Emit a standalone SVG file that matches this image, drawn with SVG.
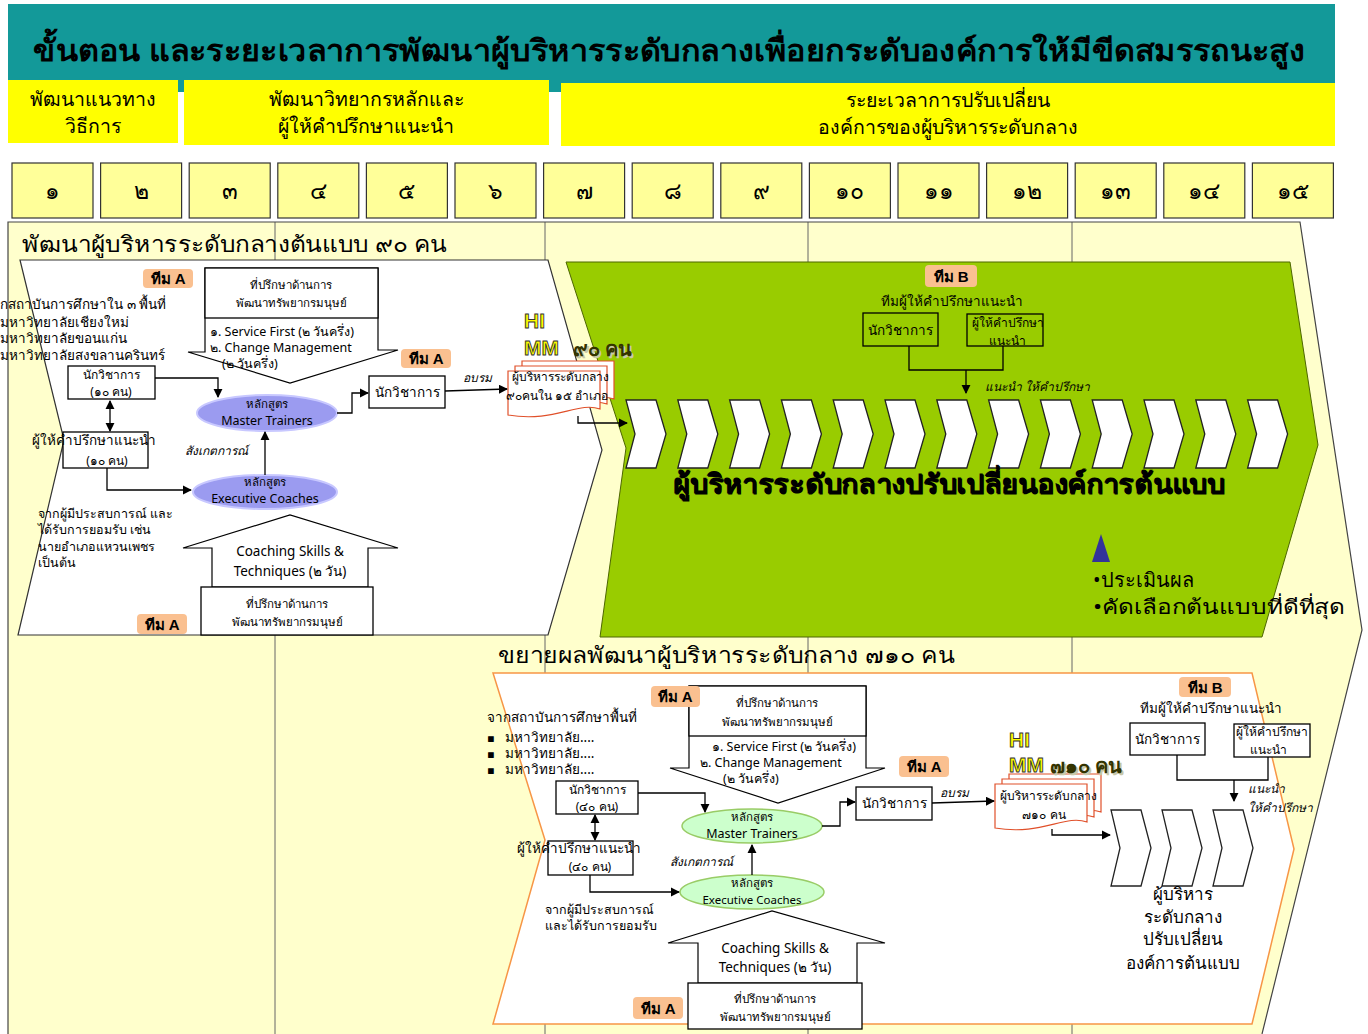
<svg xmlns="http://www.w3.org/2000/svg" width="1368" height="1034" viewBox="0 0 1368 1034">
<defs>
<style>
text{font-family:"Noto Sans","DejaVu Sans",sans-serif;fill:#000}
.title{font-size:30px;font-weight:bold}
.hdr{font-size:19.5px}
.num{font-size:23px}
.sec{font-size:22px}
.xs{font-size:11.5px}
.s{font-size:12.5px}
.m{font-size:13.5px}
.bx{font-size:12px}
.it{font-size:12px;font-style:italic}
.mid{text-anchor:middle}
.badge{fill:#fac090}
.bt{font-family:"Liberation Sans",Arial,sans-serif;font-size:15px;font-weight:bold;text-anchor:middle}
.box{fill:#fff;stroke:#000;stroke-width:1.3}
.shape{fill:#fff;stroke:#000;stroke-width:1.2}
.ln{fill:none;stroke:#000;stroke-width:1.3}
.arr{fill:none;stroke:#000;stroke-width:1.3;marker-end:url(#ah)}
.dbl{fill:none;stroke:#000;stroke-width:1.3;marker-end:url(#ah);marker-start:url(#ah)}
.chev{fill:#fff;stroke:#222;stroke-width:1.3}
.doc{fill:#fff;stroke:#e0502a;stroke-width:1.2}
.wa{font-family:"Liberation Sans",Arial,sans-serif;font-size:21px;font-weight:bold;fill:#ffff00;stroke:#333;stroke-width:0.9}
.wn{font-size:20px;font-weight:bold;fill:#333300}
.wns{font-size:20px;font-weight:bold;fill:#c8c8a8}
.col{stroke:#666;stroke-width:1}
</style>
<marker id="ah" viewBox="0 0 10 10" refX="9" refY="5" markerWidth="7" markerHeight="7" orient="auto-start-reverse">
<path d="M0,0 L10,5 L0,10 z" fill="#000"/>
</marker>
<path id="doc" d="M0,0 H92 V38 C70,30 46,52 0,44 Z"/>
<path id="chevU" d="M0,0 H30 L40,34 L30,68 H0 L9,34 Z"/>
<path id="chevL" d="M0,0 H30 L40,38 L30,76 H0 L9,38 Z"/>
</defs>

<!-- page -->
<rect x="0" y="0" width="1368" height="1034" fill="#fff"/>

<!-- timeline body -->
<g id="timeline-body">
<polygon points="8,222 1300,222 1362,630 1262,1034 8,1034" fill="#ffffcc"/>
<line class="col" x1="275" y1="222" x2="275" y2="1034"/>
<line class="col" x1="545" y1="222" x2="545" y2="1034"/>
<line class="col" x1="808" y1="222" x2="808" y2="1034"/>
<line class="col" x1="1072" y1="222" x2="1072" y2="1034"/>
<polyline points="8,1034 8,222 1300,222 1362,630 1262,1034" fill="none" stroke="#444" stroke-width="1.2"/>
</g>

<!-- title band -->
<g id="title">
<rect x="8" y="4" width="1327" height="88" fill="#139999"/>
<text class="title mid" x="669" y="61" textLength="1272" lengthAdjust="spacingAndGlyphs">ขั้นตอน และระยะเวลาการพัฒนาผู้บริหารระดับกลางเพื่อยกระดับองค์การให้มีขีดสมรรถนะสูง</text>
</g>

<!-- phase headers -->
<g id="phase-1">
<rect x="8" y="80" width="170" height="63" fill="#ffff00"/>
<text class="hdr mid" x="93" y="106">พัฒนาแนวทาง</text>
<text class="hdr mid" x="93" y="133">วิธีการ</text>
</g>
<g id="phase-2">
<rect x="184" y="80" width="365" height="65" fill="#ffff00"/>
<text class="hdr mid" x="366" y="106">พัฒนาวิทยากรหลักและ</text>
<text class="hdr mid" x="366" y="133">ผู้ให้คำปรึกษาแนะนำ</text>
</g>
<g id="phase-3">
<rect x="561" y="83" width="774" height="63" fill="#ffff00"/>
<text class="hdr mid" x="948" y="107">ระยะเวลาการปรับเปลี่ยน</text>
<text class="hdr mid" x="948" y="134">องค์การของผู้บริหารระดับกลาง</text>
</g>

<!-- week numbers -->
<g id="weeks" fill="#ffff99" stroke="#333" stroke-width="1.2">
<rect x="12" y="163" width="81" height="55"/>
<rect x="100.6" y="163" width="81" height="55"/>
<rect x="189.2" y="163" width="81" height="55"/>
<rect x="277.8" y="163" width="81" height="55"/>
<rect x="366.4" y="163" width="81" height="55"/>
<rect x="455" y="163" width="81" height="55"/>
<rect x="543.6" y="163" width="81" height="55"/>
<rect x="632.2" y="163" width="81" height="55"/>
<rect x="720.8" y="163" width="81" height="55"/>
<rect x="809.4" y="163" width="81" height="55"/>
<rect x="898" y="163" width="81" height="55"/>
<rect x="986.6" y="163" width="81" height="55"/>
<rect x="1075.2" y="163" width="81" height="55"/>
<rect x="1163.8" y="163" width="81" height="55"/>
<rect x="1252.4" y="163" width="81" height="55"/>
</g>
<g id="week-labels">
<text class="num mid" x="52.5" y="199">๑</text>
<text class="num mid" x="141.1" y="199">๒</text>
<text class="num mid" x="229.7" y="199">๓</text>
<text class="num mid" x="318.3" y="199">๔</text>
<text class="num mid" x="406.9" y="199">๕</text>
<text class="num mid" x="495.5" y="199">๖</text>
<text class="num mid" x="584.1" y="199">๗</text>
<text class="num mid" x="672.7" y="199">๘</text>
<text class="num mid" x="761.3" y="199">๙</text>
<text class="num mid" x="849.9" y="199">๑๐</text>
<text class="num mid" x="938.5" y="199">๑๑</text>
<text class="num mid" x="1027.1" y="199">๑๒</text>
<text class="num mid" x="1115.7" y="199">๑๓</text>
<text class="num mid" x="1204.3" y="199">๑๔</text>
<text class="num mid" x="1292.9" y="199">๑๕</text>
</g>

<!-- ===== prototype stage (90 managers) ===== -->
<text class="sec" x="22" y="252" textLength="425" lengthAdjust="spacingAndGlyphs">พัฒนาผู้บริหารระดับกลางต้นแบบ ๙๐ คน</text>

<g id="proto-area">
<polygon points="20,260 548,260 602,450 548,635 18,635 64,440" fill="#fff" stroke="#333" stroke-width="1.2"/>
</g>

<g id="green-area">
<polygon points="566,262 1290,262 1318,445 1262,637 600,637 626,448" fill="#99cc00" stroke="#4d6600" stroke-width="1"/>
</g>

<g id="universities-1">
<text class="m" x="0" y="309">กสถาบันการศึกษาใน ๓ พื้นที่</text>
<text class="m" x="0" y="327">มหาวิทยาลัยเชียงใหม่</text>
<text class="m" x="0" y="343">มหาวิทยาลัยขอนแก่น</text>
<text class="m" x="0" y="360">มหาวิทยาลัยสงขลานครินทร์</text>
</g>

<g id="hr-course-1">
<path class="shape" d="M205,268 V352 H188 L290,383 L398,350 H378 V268 Z"/>
<rect class="box" x="205" y="268" width="173" height="50"/>
<text class="xs mid" x="291" y="289">ที่ปรึกษาด้านการ</text>
<text class="xs mid" x="291" y="307">พัฒนาทรัพยากรมนุษย์</text>
<text class="s" x="210" y="336">๑. Service First (๒ วันครึ่ง)</text>
<text class="s" x="210" y="352">๒. Change Management</text>
<text class="s" x="222" y="368">(๒ วันครึ่ง)</text>
</g>
<g id="team-a-1"><rect class="badge" x="143" y="269" width="50" height="19" rx="4"/><text class="bt" x="168" y="284">ทีม A</text></g>

<g id="academics-1">
<rect class="box" x="68" y="366" width="87" height="33"/>
<text class="bx mid" x="111" y="379">นักวิชาการ</text>
<text class="bx mid" x="111" y="396">(๑๐ คน)</text>
</g>

<g id="advisors-1">
<rect class="box" x="63" y="432" width="85" height="36"/>
<text class="m" x="32" y="445">ผู้ให้คำปรึกษาแนะนำ</text>
<text class="bx mid" x="107" y="465">(๑๐ คน)</text>
</g>

<g id="master-trainers-1">
<ellipse cx="267" cy="413" rx="70" ry="18" fill="#9b9bf0" stroke="#c8c8ff" stroke-width="2"/>
<text class="xs mid" x="267" y="408" fill="#1f1f5f">หลักสูตร</text>
<text class="s mid" x="267" y="425" fill="#1f1f5f">Master Trainers</text>
</g>

<g id="exec-coaches-1">
<ellipse cx="265" cy="492" rx="72" ry="17" fill="#9b9bf0" stroke="#c8c8ff" stroke-width="2"/>
<text class="xs mid" x="265" y="486" fill="#1f1f5f">หลักสูตร</text>
<text class="s mid" x="265" y="503" fill="#1f1f5f">Executive Coaches</text>
</g>

<g id="experienced-1">
<text class="s" x="38" y="518">จากผู้มีประสบการณ์ และ</text>
<text class="s" x="38" y="534">ได้รับการยอมรับ เช่น</text>
<text class="s" x="38" y="551">นายอำเภอแหวนเพชร</text>
<text class="s" x="38" y="567">เป็นต้น</text>
</g>

<g id="coaching-1">
<path class="shape" d="M212,587 V548 H183 L290,515 L398,548 H368 V587 Z"/>
<text class="m mid" x="290" y="556">Coaching Skills &amp;</text>
<text class="m mid" x="290" y="576">Techniques (๒ วัน)</text>
<rect class="box" x="201" y="587" width="172" height="48"/>
<text class="xs mid" x="287" y="608">ที่ปรึกษาด้านการ</text>
<text class="xs mid" x="287" y="626">พัฒนาทรัพยากรมนุษย์</text>
</g>
<g id="team-a-3"><rect class="badge" x="137" y="614" width="50" height="20" rx="4"/><text class="bt" x="162" y="630">ทีม A</text></g>

<g id="trainer-pool-1">
<rect class="box" x="369" y="376" width="76" height="32"/>
<text class="m mid" x="407" y="397">นักวิชาการ</text>
</g>
<g id="team-a-2"><rect class="badge" x="401" y="349" width="50" height="19" rx="4"/><text class="bt" x="426" y="364">ทีม A</text></g>

<g id="managers-90">
<use href="#doc" class="doc" x="522" y="361"/>
<use href="#doc" class="doc" x="515" y="366"/>
<use href="#doc" class="doc" x="508" y="371"/>
<text class="bx mid" x="560" y="381">ผู้บริหารระดับกลาง</text>
<text class="bx mid" x="557" y="400">๙๐คนใน ๑๕ อำเภอ</text>
<text class="wa" x="524" y="328">HI</text>
<text class="wa" x="524" y="355">MM</text>
<text class="wns" x="575" y="358">๙๐ คน</text>
<text class="wn" x="573" y="356">๙๐ คน</text>
</g>

<g id="team-b-1">
<rect class="badge" x="925" y="265" width="52" height="22" rx="4"/><text class="bt" x="951" y="282">ทีม B</text>
<text class="m mid" x="952" y="306">ทีมผู้ให้คำปรึกษาแนะนำ</text>
<rect x="863" y="313" width="75" height="33" fill="none" stroke="#000" stroke-width="1.3"/>
<text class="m mid" x="900" y="335">นักวิชาการ</text>
<rect x="967" y="314" width="76" height="32" fill="none" stroke="#000" stroke-width="1.3"/>
<text class="bx mid" x="1008" y="327">ผู้ให้คำปรึกษา</text>
<text class="bx mid" x="1007" y="345">แนะนำ</text>
<text class="it" x="985" y="391">แนะนำ ให้คำปรึกษา</text>
</g>

<g id="change-steps-1">
<use href="#chevU" class="chev" x="626" y="400"/>
<use href="#chevU" class="chev" x="677.8" y="400"/>
<use href="#chevU" class="chev" x="729.6" y="400"/>
<use href="#chevU" class="chev" x="781.4" y="400"/>
<use href="#chevU" class="chev" x="833.2" y="400"/>
<use href="#chevU" class="chev" x="885" y="400"/>
<use href="#chevU" class="chev" x="936.8" y="400"/>
<use href="#chevU" class="chev" x="988.6" y="400"/>
<use href="#chevU" class="chev" x="1040.4" y="400"/>
<use href="#chevU" class="chev" x="1092.2" y="400"/>
<use href="#chevU" class="chev" x="1144" y="400"/>
<use href="#chevU" class="chev" x="1195.8" y="400"/>
<use href="#chevU" class="chev" x="1247.6" y="400"/>
<text x="950" y="494" font-size="27" font-weight="bold" text-anchor="middle" fill="#d8f0a0" textLength="552" lengthAdjust="spacingAndGlyphs">ผู้บริหารระดับกลางปรับเปลี่ยนองค์การต้นแบบ</text>
<text x="949" y="493" font-size="27" font-weight="bold" text-anchor="middle" fill="#000" textLength="552" lengthAdjust="spacingAndGlyphs">ผู้บริหารระดับกลางปรับเปลี่ยนองค์การต้นแบบ</text>
</g>

<g id="evaluation">
<polygon points="1101,534 1092,562 1110,562" fill="#333399"/>
<text x="1093" y="587" font-size="20">•ประเมินผล</text>
<text x="1093" y="614" font-size="20" textLength="252" lengthAdjust="spacingAndGlyphs">•คัดเลือกต้นแบบที่ดีที่สุด</text>
</g>

<!-- ===== roll-out stage (710 managers) ===== -->
<text class="sec" x="498" y="663" textLength="457" lengthAdjust="spacingAndGlyphs">ขยายผลพัฒนาผู้บริหารระดับกลาง ๗๑๐ คน</text>

<g id="rollout-area">
<polygon points="493,673 1252,673 1294,849 1252,1024 493,1024 545,840" fill="#fff" stroke="#f79646" stroke-width="1.5"/>
</g>

<g id="universities-2">
<text class="m" x="487" y="722">จากสถาบันการศึกษาพื้นที่</text>
<text class="xs" x="487" y="742">▪</text><text class="m" x="505" y="742">มหาวิทยาลัย....</text>
<text class="xs" x="487" y="758">▪</text><text class="m" x="505" y="758">มหาวิทยาลัย....</text>
<text class="xs" x="487" y="774">▪</text><text class="m" x="505" y="774">มหาวิทยาลัย....</text>
</g>

<g id="hr-course-2">
<path class="shape" d="M689,686 V768 H670 L778,803 L885,768 H866 V686 Z"/>
<rect class="box" x="689" y="686" width="177" height="50"/>
<text class="xs mid" x="777" y="707">ที่ปรึกษาด้านการ</text>
<text class="xs mid" x="777" y="726">พัฒนาทรัพยากรมนุษย์</text>
<text class="s" x="712" y="751">๑. Service First (๒ วันครึ่ง)</text>
<text class="s" x="700" y="767">๒. Change Management</text>
<text class="s" x="723" y="783">(๒ วันครึ่ง)</text>
</g>
<g id="team-a-4"><rect class="badge" x="651" y="686" width="49" height="21" rx="4"/><text class="bt" x="675" y="702">ทีม A</text></g>

<g id="academics-2">
<rect class="box" x="556" y="781" width="82" height="33"/>
<text class="bx mid" x="597" y="794">นักวิชาการ</text>
<text class="bx mid" x="597" y="811">(๔๐ คน)</text>
</g>

<g id="advisors-2">
<rect class="box" x="548" y="841" width="85" height="34"/>
<text class="m" x="517" y="853">ผู้ให้คำปรึกษาแนะนำ</text>
<text class="bx mid" x="590" y="871">(๔๐ คน)</text>
</g>

<g id="master-trainers-2">
<ellipse cx="752" cy="826" rx="70" ry="17" fill="#ccffcc" stroke="#99cc66" stroke-width="1.5"/>
<text class="xs mid" x="752" y="821">หลักสูตร</text>
<text class="s mid" x="752" y="838">Master Trainers</text>
</g>

<g id="exec-coaches-2">
<ellipse cx="752" cy="892" rx="72" ry="17" fill="#ccffcc" stroke="#99cc66" stroke-width="1.5"/>
<text class="xs mid" x="752" y="887">หลักสูตร</text>
<text class="xs mid" x="752" y="904">Executive Coaches</text>
</g>

<g id="experienced-2">
<text class="s" x="545" y="914">จากผู้มีประสบการณ์</text>
<text class="s" x="545" y="930">และได้รับการยอมรับ</text>
</g>

<g id="coaching-2">
<path class="shape" d="M698,983 V943 H668 L772,911 L885,943 H857 V983 Z"/>
<text class="m mid" x="775" y="953">Coaching Skills &amp;</text>
<text class="m mid" x="775" y="972">Techniques (๒ วัน)</text>
<rect class="box" x="688" y="983" width="174" height="46"/>
<text class="xs mid" x="775" y="1003">ที่ปรึกษาด้านการ</text>
<text class="xs mid" x="775" y="1021">พัฒนาทรัพยากรมนุษย์</text>
</g>
<g id="team-a-6"><rect class="badge" x="633" y="997" width="50" height="22" rx="4"/><text class="bt" x="658" y="1014">ทีม A</text></g>

<g id="trainer-pool-2">
<rect class="box" x="856" y="787" width="76" height="33"/>
<text class="m mid" x="894" y="808">นักวิชาการ</text>
</g>
<g id="team-a-5"><rect class="badge" x="899" y="756" width="50" height="21" rx="4"/><text class="bt" x="924" y="772">ทีม A</text></g>

<g id="managers-710">
<use href="#doc" class="doc" x="1009" y="774"/>
<use href="#doc" class="doc" x="1002" y="779"/>
<use href="#doc" class="doc" x="995" y="784"/>
<text class="bx mid" x="1048" y="800">ผู้บริหารระดับกลาง</text>
<text class="bx mid" x="1044" y="819">๗๑๐ คน</text>
<text class="wa" x="1009" y="747">HI</text>
<text class="wa" x="1009" y="772">MM</text>
<text class="wns" x="1052" y="775">๗๑๐ คน</text>
<text class="wn" x="1050" y="773">๗๑๐ คน</text>
</g>

<g id="team-b-2">
<rect class="badge" x="1179" y="677" width="52" height="20" rx="4"/><text class="bt" x="1205" y="693">ทีม B</text>
<text class="m mid" x="1211" y="713">ทีมผู้ให้คำปรึกษาแนะนำ</text>
<rect class="box" x="1130" y="723" width="75" height="32"/>
<text class="m mid" x="1167" y="744">นักวิชาการ</text>
<rect class="box" x="1234" y="724" width="76" height="33"/>
<text class="bx mid" x="1272" y="736">ผู้ให้คำปรึกษา</text>
<text class="bx mid" x="1268" y="754">แนะนำ</text>
<text class="it" x="1248" y="793">แนะนำ</text>
<text class="it" x="1248" y="812">ให้คำปรึกษา</text>
</g>

<g id="change-steps-2">
<use href="#chevL" class="chev" x="1111" y="810"/>
<use href="#chevL" class="chev" x="1162" y="810"/>
<use href="#chevL" class="chev" x="1213" y="810"/>
<text class="mid" x="1183" y="900" font-size="17">ผู้บริหาร</text>
<text class="mid" x="1183" y="923" font-size="17">ระดับกลาง</text>
<text class="mid" x="1183" y="945" font-size="17">ปรับเปลี่ยน</text>
<text class="mid" x="1183" y="969" font-size="17">องค์การต้นแบบ</text>
</g>

<!-- connectors -->
<g id="connectors">
<polyline class="arr" points="155,378 218,378 218,397"/>
<line class="dbl" x1="110" y1="401" x2="110" y2="431"/>
<polyline class="arr" points="107,468 107,490 191,490"/>
<polyline class="arr" points="265,475 265,432"/>
<polyline class="arr" points="337,413 352,413 352,393 368,393"/>
<polyline class="arr" points="445,391 507,389"/>
<polyline class="arr" points="578,416 578,423 627,423"/>
<polyline class="ln" points="909,346 909,370 1003,370 1003,346"/>
<polyline class="arr" points="966,370 966,393"/>

<polyline class="arr" points="638,793 705,793 705,812"/>
<line class="dbl" x1="595" y1="815" x2="595" y2="840"/>
<polyline class="arr" points="590,875 590,892 679,892"/>
<polyline class="arr" points="752,875 752,845"/>
<polyline class="arr" points="822,826 840,826 840,802 855,802"/>
<polyline class="arr" points="932,803 994,801"/>
<polyline class="arr" points="1052,829 1052,835 1110,835"/>
<polyline class="ln" points="1177,755 1177,780 1268,780 1268,757"/>
<polyline class="arr" points="1234,780 1234,801"/>
</g>

<g id="connector-labels">
<text class="it" x="463" y="382">อบรม</text>
<text class="it" x="185" y="455">สังเกตการณ์</text>
<text class="it" x="940" y="797">อบรม</text>
<text class="it" x="670" y="866">สังเกตการณ์</text>
</g>
</svg>
